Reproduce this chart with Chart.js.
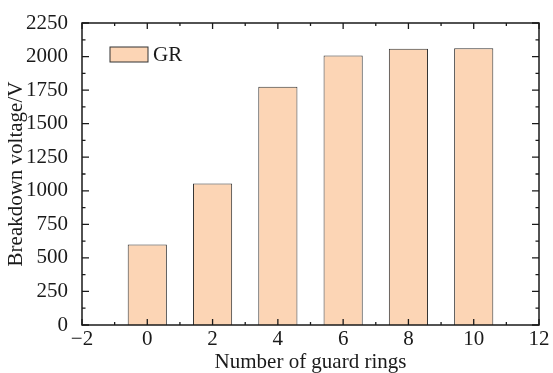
<!DOCTYPE html>
<html>
<head>
<meta charset="utf-8">
<script src="https://cdn.jsdelivr.net/npm/chart.js@4.4.1/dist/chart.umd.min.js"></script>
<style>
  html, body { margin: 0; padding: 0; background: #fff; }
  #wrap { width: 553px; height: 373px; }
</style>
</head>
<body>
<div id="wrap"><canvas id="grafico"></canvas></div>
<script>
// dados
const guardRings = [0, 2, 4, 6, 8, 10];
const breakdownVoltage = [600, 1055, 1775, 2008, 2058, 2062];
const seriesLabel = 'GR';
const xLabel = 'Number of guard rings';
const yLabel = 'Breakdown voltage/V';

const serif = '"Liberation Serif", "DejaVu Serif", serif';
const ink = '#1a1a1a';

// moldura + ticks para dentro + legenda dentro do gráfico
const framePlugin = {
    id: 'frame',
    afterDatasetsDraw(chart) {
        const { ctx, chartArea: a, scales } = chart;
        const x = scales.x, y = scales.y;
        ctx.save();
        ctx.strokeStyle = ink;
        ctx.lineWidth = 1.5;
        ctx.strokeRect(a.left, a.top, a.right - a.left, a.bottom - a.top);

        ctx.lineWidth = 1.3;
        ctx.beginPath();
        const xt = x.ticks.map(t => t.value);
        xt.forEach((v, i) => {
            const px = x.getPixelForValue(v);
            ctx.moveTo(px, a.bottom); ctx.lineTo(px, a.bottom - 6);
            ctx.moveTo(px, a.top); ctx.lineTo(px, a.top + 6);
            if (i < xt.length - 1) {
                const pm = x.getPixelForValue((v + xt[i + 1]) / 2);
                ctx.moveTo(pm, a.bottom); ctx.lineTo(pm, a.bottom - 3);
                ctx.moveTo(pm, a.top); ctx.lineTo(pm, a.top + 3);
            }
        });
        const yt = y.ticks.map(t => t.value);
        yt.forEach((v, i) => {
            const py = y.getPixelForValue(v);
            ctx.moveTo(a.left, py); ctx.lineTo(a.left + 7, py);
            ctx.moveTo(a.right, py); ctx.lineTo(a.right - 7, py);
            if (i < yt.length - 1) {
                const pm = y.getPixelForValue((v + yt[i + 1]) / 2);
                ctx.moveTo(a.left, pm); ctx.lineTo(a.left + 3.5, pm);
                ctx.moveTo(a.right, pm); ctx.lineTo(a.right - 3.5, pm);
            }
        });
        ctx.stroke();

        // legenda
        const ds = chart.data.datasets[0];
        const lx = a.left + 28, ly = a.top + 24;
        ctx.fillStyle = ds.backgroundColor;
        ctx.fillRect(lx, ly, 38, 15);
        ctx.strokeStyle = '#333';
        ctx.lineWidth = 1;
        ctx.strokeRect(lx, ly, 38, 15);
        ctx.fillStyle = ink;
        ctx.font = '21px ' + serif;
        ctx.textBaseline = 'middle';
        ctx.fillText(ds.label, lx + 43, ly + 8);
        ctx.restore();
    }
};

const ctx = document.getElementById('grafico').getContext('2d');
new Chart(ctx, {
    type: 'bar',
    data: {
        datasets: [{
            label: seriesLabel,
            data: guardRings.map((g, i) => ({ x: g, y: breakdownVoltage[i] })),
            backgroundColor: '#fcd5b5',
            borderColor: '#333333',
            borderWidth: 1,
            barPercentage: 0.6,
            categoryPercentage: 1
        }]
    },
    options: {
        responsive: true,
        maintainAspectRatio: false,
        animation: false,
        layout: { padding: { top: 23, right: 14, left: 0, bottom: 0 } },
        plugins: {
            legend: { display: false },
            tooltip: { enabled: false }
        },
        scales: {
            x: {
                type: 'linear',
                offset: false,
                min: -2,
                max: 12,
                grid: { display: false, offset: false },
                border: { display: false },
                ticks: {
                    stepSize: 2,
                    color: ink,
                    padding: -6,
                    maxRotation: 0,
                    font: { family: serif, size: 21 },
                    callback: v => (v < 0 ? '\u2212' + Math.abs(v) : String(v))
                },
                title: {
                    display: true,
                    text: xLabel,
                    color: ink,
                    padding: { top: 0, bottom: -2 },
                    font: { family: serif, size: 21 }
                },
                afterFit: s => { s.height = 48; }
            },
            y: {
                min: 0,
                max: 2250,
                grid: { display: false },
                border: { display: false },
                ticks: {
                    stepSize: 250,
                    color: ink,
                    padding: 6,
                    font: { family: serif, size: 21 },
                    callback: v => String(v)
                },
                title: {
                    display: true,
                    text: yLabel,
                    color: ink,
                    padding: { top: 4, bottom: 0 },
                    font: { family: serif, size: 21 }
                },
                afterFit: s => { s.width = 82; }
            }
        }
    },
    plugins: [framePlugin]
});
</script>
</body>
</html>
